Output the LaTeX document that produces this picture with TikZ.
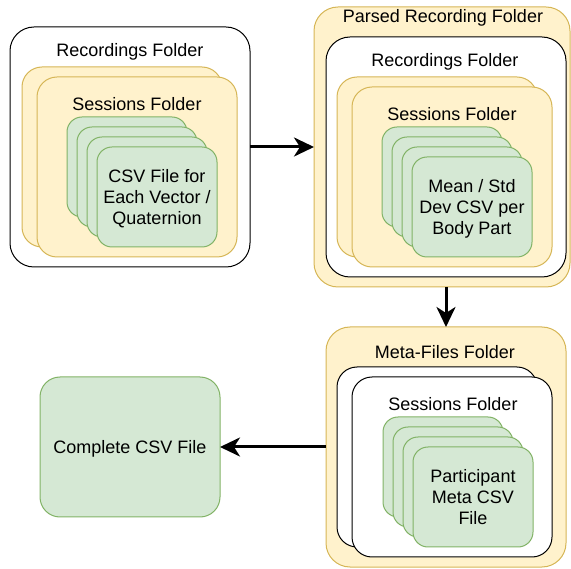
\documentclass[tikz,border=0pt]{standalone}
\usepackage{fontspec}
\setmainfont{Liberation Sans}
\usepackage{tikz}
\usetikzlibrary{arrows.meta}
\definecolor{folderfill}{HTML}{FFF2CC}
\definecolor{folderline}{HTML}{D6B656}
\definecolor{filefill}{HTML}{D5E8D4}
\definecolor{fileline}{HTML}{82B366}
\tikzstyle{box} = [draw, line width=1pt, inner sep=0pt, outer sep=0pt, anchor=north west, font=\fontsize{18pt}{21pt}\selectfont, align=center, text depth=0pt]
\tikzstyle{whitebox} = [box, draw=black, fill=white, rounded corners=24pt, minimum width=240pt, minimum height=240pt]
\tikzstyle{session} = [box, minimum width=200pt, minimum height=180pt, rounded corners=20pt]
\tikzstyle{yellowsession} = [session, draw=folderline, fill=folderfill]
\tikzstyle{whitesession} = [session, draw=black, fill=white]
\tikzstyle{card} = [box, draw=fileline, fill=filefill, rounded corners=15pt, minimum width=120pt, minimum height=100pt]
\tikzstyle{lbl} = [font=\fontsize{18pt}{21pt}\selectfont, inner sep=0pt]
\tikzstyle{conn} = [line width=3pt, -{Stealth[length=20pt, width=19pt, inset=6pt]}]

\begin{document}
\begin{tikzpicture}[x=1pt, y=1pt, yscale=-1]
			\useasboundingbox (0,0) rectangle (571,569);
			% raw recordings
			\node[whitebox] (recA) at (10,27) {};
			\node[lbl] (recAlbl) at (130,52) {Recordings Folder};
			\node[yellowsession] (sessAback) at (22,67) {};
			\node[yellowsession] (sessA) at (37,77) {};
			\node[lbl] (sessAlbl) at (137,104) {Sessions Folder};
			\node[card] (csvA1) at (67,117) {};
			\node[card] (csvA2) at (77,127) {};
			\node[card] (csvA3) at (87,137) {};
			\node[card] (csvA4) at (97,147) {CSV File for\\Each Vector /\\Quaternion};
			% parsed recordings
			\node[box, draw=folderline, fill=folderfill, rounded corners=24pt, minimum width=256pt, minimum height=280pt] (parsed) at (314,7) {};
			\node[lbl] (parsedlbl) at (443,18) {Parsed Recording Folder};
			\node[whitebox] (recB) at (326,37) {};
			\node[lbl] (recBlbl) at (445,62) {Recordings Folder};
			\node[yellowsession] (sessBback) at (337,77) {};
			\node[yellowsession] (sessB) at (352,87) {};
			\node[lbl] (sessBlbl) at (452,114) {Sessions Folder};
			\node[card] (csvB1) at (382,127) {};
			\node[card] (csvB2) at (392,137) {};
			\node[card] (csvB3) at (402,147) {};
			\node[card] (csvB4) at (412,157) {Mean / Std\\Dev CSV per\\Body Part};
			% meta files
			\node[box, draw=folderline, fill=folderfill, rounded corners=24pt, minimum width=240pt, minimum height=240pt] (meta) at (326,327) {};
			\node[lbl] (metalbl) at (445,352) {Meta-Files Folder};
			\node[whitesession] (sessCback) at (337,367) {};
			\node[whitesession] (sessC) at (352,377) {};
			\node[lbl] (sessClbl) at (453,404) {Sessions Folder};
			\node[card] (csvC1) at (383,417) {};
			\node[card] (csvC2) at (393,427) {};
			\node[card] (csvC3) at (403,437) {};
			\node[card] (csvC4) at (413,447) {Participant\\Meta CSV\\File};
			% result
			\node[box, draw=fileline, fill=filefill, rounded corners=20pt, minimum width=180pt, minimum height=140pt] (complete) at (40,377) {Complete CSV File};
			% arrows
			\draw[conn] (recA) -- (parsed);
			\draw[conn] (parsed.south -| meta.north) -- (meta.north);
			\draw[conn] (meta) -- (complete);
		\end{tikzpicture}
\end{document}
